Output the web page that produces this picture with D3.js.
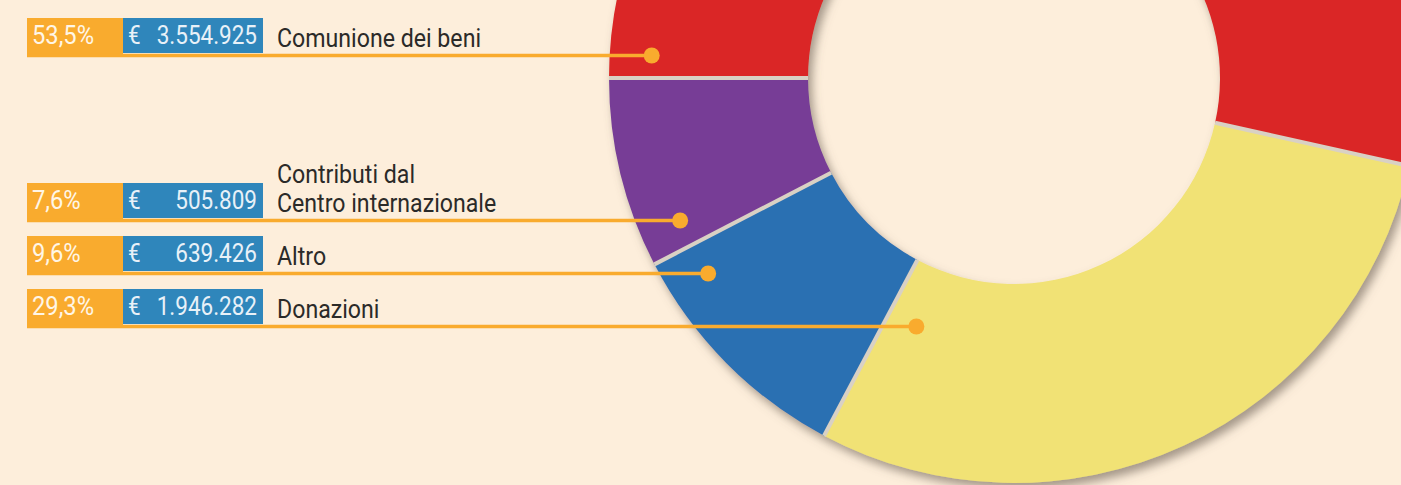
<!DOCTYPE html>
<html>
<head>
<meta charset="utf-8">
<script src="https://cdn.jsdelivr.net/npm/d3@7"></script>
<style>
  body { margin: 0; background: #fdeedb; }
  svg { display: block; }
</style>
</head>
<body>
<svg id="donut"></svg>
<script>
// data
var categories = ["Comunione dei beni", "Donazioni", "Altro", "Contributi dal Centro internazionale"];
var amounts = [3554925, 1946282, 639426, 505809];
var percents = [53.5, 29.3, 9.6, 7.6];
var sliceColors = ["#da2625", "#f1e275", "#2c6fb2", "#773d96"];
// legend rows, top to bottom (index into categories) and their text lines
var legendOrder = [0, 3, 2, 1];
var labelLines = [["Comunione dei beni"], ["Contributi dal", "Centro internazionale"], ["Altro"], ["Donazioni"]];

var dimensions = {
    width: 1401,
    height: 485,
    cx: 1014,
    cy: 78,
    innerR: 206,
    outerR: 405
};

// row layout (top of boxes, radius where the leader dot sits)
var rowTops = [18, 183, 236, 289];
var dotRadius = [363, 363, 363, 267];

var it = d3.formatLocale({ decimal: ",", thousands: ".", grouping: [3], currency: ["€", ""] });
var fmtAmount = it.format(",d");
var fmtPct = it.format(".1f");

var svg = d3.select("#donut")
            .attr("width", dimensions.width)
            .attr("height", dimensions.height);

svg.append("rect")
   .attr("width", dimensions.width)
   .attr("height", dimensions.height)
   .attr("fill", "#fdeedb");

var defs = svg.append("defs");
var shadow = defs.append("filter")
                 .attr("id", "shadow")
                 .attr("x", "-20%").attr("y", "-20%")
                 .attr("width", "140%").attr("height", "140%");
shadow.append("feDropShadow")
      .attr("dx", 4)
      .attr("dy", 6)
      .attr("stdDeviation", 5)
      .attr("flood-color", "#6b5f52")
      .attr("flood-opacity", 0.6);

// pie starts pointing left and runs clockwise
var pie = d3.pie()
            .sort(null)
            .startAngle(-Math.PI / 2)
            .endAngle(3 * Math.PI / 2)
            .value(d => d);

var arcs = pie(amounts);

var arc = d3.arc()
            .innerRadius(dimensions.innerR)
            .outerRadius(dimensions.outerR);

var ring = svg.append("g")
              .attr("transform", `translate(${dimensions.cx},${dimensions.cy})`)
              .attr("filter", "url(#shadow)");

ring.selectAll("path")
    .data(arcs)
    .enter()
    .append("path")
    .attr("d", arc)
    .attr("fill", (d, i) => sliceColors[i]);

// thin light separators between slices
ring.selectAll("line")
    .data(arcs)
    .enter()
    .append("line")
    .attr("x1", d => d3.pointRadial(d.startAngle, dimensions.innerR)[0])
    .attr("y1", d => d3.pointRadial(d.startAngle, dimensions.innerR)[1])
    .attr("x2", d => d3.pointRadial(d.startAngle, dimensions.outerR)[0])
    .attr("y2", d => d3.pointRadial(d.startAngle, dimensions.outerR)[1])
    .attr("stroke", "#d9d1c4")
    .attr("stroke-width", 4);

// legend rows; Roboto squeezed a little to look like the condensed face
var font = "Roboto, 'Noto Sans', sans-serif";

function addText(g, x, y, sx, size, fill, str, anchor) {
    return g.append("text")
            .attr("transform", `translate(${x},${y}) scale(${sx},1)`)
            .attr("text-anchor", anchor || "start")
            .attr("fill", fill)
            .style("font-family", font)
            .style("font-size", size + "px")
            .text(str);
}

var rows = svg.selectAll("g.row")
              .data(legendOrder)
              .enter()
              .append("g")
              .attr("class", "row")
              .attr("transform", (d, i) => `translate(0,${rowTops[i]})`);

rows.each(function(k, i) {
    var g = d3.select(this);
    var lineY = 37.5;
    var dy = rowTops[i] + lineY - dimensions.cy;
    var dotX = dimensions.cx - Math.sqrt(dotRadius[i] * dotRadius[i] - dy * dy);

    g.append("rect")
     .attr("x", 27).attr("y", 0)
     .attr("width", 96).attr("height", 39)
     .attr("fill", "#f9ab2e");

    g.append("line")
     .attr("x1", 27).attr("x2", dotX)
     .attr("y1", lineY).attr("y2", lineY)
     .attr("stroke", "#f9ab2e")
     .attr("stroke-width", 3.5);

    g.append("circle")
     .attr("cx", dotX).attr("cy", lineY)
     .attr("r", 8)
     .attr("fill", "#f9ab2e");

    g.append("rect")
     .attr("x", 123).attr("y", 0)
     .attr("width", 140).attr("height", 35)
     .attr("fill", "#2f86bb");

    addText(g, 32, 25.5, 0.95, 25, "#fff6e6", fmtPct(percents[k]) + "%");
    addText(g, 128, 25.5, 0.9, 25, "#e8f1f8", "€");
    addText(g, 257, 25.5, 0.9, 25, "#e8f1f8", fmtAmount(amounts[k]), "end");

    var lines = labelLines[i];
    lines.forEach(function(str, j) {
        addText(g, 277, 29 - (lines.length - 1 - j) * 29, 0.89, 26, "#2b2a28", str);
    });
});
</script>
</body>
</html>
